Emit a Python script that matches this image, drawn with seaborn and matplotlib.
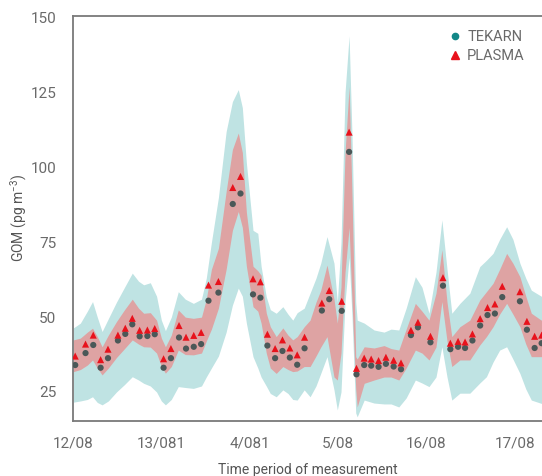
import numpy as np
import pandas as pd
import seaborn as sns
import matplotlib.pyplot as plt

# measurement times (hours since 12/08 00:00)
hours = [0.6, 3.4, 5.5, 7.5, 9.5, 12.2, 14.2, 16.1, 18.1, 20.2, 22.2,
         24.6, 26.6, 28.8, 30.7, 32.8, 34.8, 36.8, 39.5,
         43.4, 45.5, 48.9, 50.9, 52.8, 54.9, 56.9, 58.9, 60.9, 62.9,
         67.6, 69.6, 73.0, 75.0, 77.0, 79.1, 81.0, 83.0,
         85.0, 87.1, 89.1, 91.8, 93.7, 97.1, 100.5, 102.5, 104.6,
         106.5, 108.5, 110.6, 112.6, 114.6, 116.6, 121.4, 123.3, 125.4, 127.3]

tekarn = [34, 38, 40.7, 33.1, 36.3, 42.2, 44.4, 47.6, 43.6, 43.7, 44.3,
          33.1, 36.3, 43.2, 39.5, 40.1, 41, 55.5, 58.2,
          87.8, 91.3, 57.6, 56.5, 40.5, 36.3, 38.7, 36.5, 34.1, 39.6,
          52.2, 56, 52.1, 105.2, 30.9, 34, 33.8, 33.4,
          34.4, 33.5, 32.6, 44, 46.6, 41.6, 60.5, 39.3, 40.1,
          39.7, 42.2, 47.2, 50.7, 51.2, 56.7, 55.3, 45.8, 39.7, 41.3]

plasma = [37, 41, 44, 35.8, 39.3, 44, 46.3, 49.6, 45.6, 45.7, 46.2,
          36.1, 39.5, 47.2, 43.3, 43.9, 44.9, 60.7, 61.9,
          93.3, 97, 62.8, 61.8, 44.3, 39.5, 42.4, 39.7, 37.4, 43.3,
          54.7, 58.9, 55.3, 111.8, 32.9, 36.3, 36, 35.5,
          36.6, 35.6, 34.7, 45.6, 48.3, 43.6, 63.2, 41.3, 41.9,
          41.7, 44.4, 49.5, 53.2, 54.4, 60.3, 58.5, 48.6, 43.6, 44]

# uncertainty bands
band_hours = [0.1, 2.0, 3.9, 5.3, 6.6, 7.9, 9.6, 11.8, 14.0, 16.1, 17.8, 19.2,
              21.0, 22.7, 24.0, 25.1, 26.7, 28.6, 30.5, 32.7, 34.9, 36.2, 37.6,
              39.5, 41.6, 43.3, 44.9, 46.0, 47.1, 48.9, 50.2, 51.1, 52.5, 53.6,
              55.2, 57.0, 58.4, 59.7, 60.9, 62.8, 64.4, 66.0, 67.3, 69.0, 70.9,
              71.8, 72.8, 73.9, 75.0, 75.8, 76.8, 77.2, 79.1, 81.8, 84.5, 86.4,
              88.5, 90.5, 93.0, 94.8, 96.7, 98.6, 100.2, 101.6, 102.9, 105.1,
              107.8, 110.5, 112.3, 114.1, 115.9, 117.8, 119.5, 121.4, 123.0,
              124.5, 127.2, 129.0]
outer_lo = [21.6, 22, 22.5, 23.4, 21.5, 20.7, 22, 25, 27.5, 30.1, 29, 27.9,
            27, 25, 22, 20.7, 22.5, 26.8, 26.5, 26.2, 27, 30, 33,
            37, 45, 54, 59.7, 57, 48, 36.8, 33, 30, 27, 24.5,
            23.4, 25.7, 24.5, 22.5, 22.3, 25.7, 23.4, 27, 31.2, 36.8, 25.7,
            19, 25, 55, 70, 50, 18, 16.7, 22.3, 21.3, 21, 21,
            20, 23, 29, 28, 26.8, 30, 40.1, 30, 22.3, 24.6,
            24.6, 28, 30.1, 35, 39, 40.1, 36, 31.2, 26,
            22.3, 21.2, 22]
inner_lo = [31.8, 32.5, 34, 35.7, 33, 30.7, 33, 36.5, 39.5, 42.4, 41, 40.1,
            40, 38, 33.5, 31.3, 33.5, 39, 37.5, 37.4, 38, 42, 46,
            53, 66, 79, 85.3, 80, 67, 53.5, 52, 48, 38, 33,
            31.2, 33.5, 32.5, 31.8, 32, 33.5, 33.5, 37, 40, 43.5, 30,
            29, 38, 65, 80, 55, 26, 20, 27.9, 29, 30, 30,
            29, 33, 39, 38, 35.7, 40, 55.2, 42, 33.5, 35.7,
            35.7, 40.7, 43.5, 46.8, 51, 54.6, 51, 46.8, 41,
            36.8, 36.8, 37]
inner_hi = [42.4, 43, 45, 46.3, 43.5, 40.1, 44, 48.5, 52.5, 56, 53, 51.3,
            51.5, 49, 43, 40.1, 44, 52.4, 50, 49.6, 50, 56, 66,
            73, 92, 106, 111.5, 105, 85, 67, 65.5, 64, 51.4, 46.8,
            43.5, 46.4, 44, 42.4, 43.5, 46.8, 49, 55, 59, 67.4, 56,
            48, 60, 105, 127, 90, 36.8, 36, 40.1, 39.7, 40.5, 39.5,
            39, 46, 54.6, 52, 49, 58, 72.5, 55, 43.5, 46.8,
            49, 55.7, 58.5, 61.3, 66, 71.3, 68, 63.5, 57,
            51.3, 49, 49]
outer_hi = [46.4, 48, 52, 55.2, 50, 45.2, 49.5, 55, 60, 64.7, 62, 60.8,
            61.5, 57, 49, 45.5, 50, 58.5, 56, 54.6, 56, 63, 75,
            90, 112, 122, 126, 120, 101.5, 79, 78, 67, 56.8, 52.5,
            51.3, 53.5, 51, 49, 51.5, 53, 58, 63, 68, 76.9, 68,
            55, 75, 125, 144, 110, 55, 49, 48, 45.7, 45, 46,
            45.7, 53, 63.5, 60, 51.3, 65, 82.5, 66, 51.3, 54.6,
            58, 66.9, 69, 71.3, 76, 80.2, 76, 68, 63,
            59, 57, 57]

day_ticks = [0, 24, 48, 72, 96, 120]
day_labels = ["12/08", "13/081", "4/081", "5/08", "16/08", "17/08"]

df = pd.DataFrame({"hour": hours, "TEKARN": tekarn, "PLASMA": plasma})
bands = pd.DataFrame({"hour": band_hours, "outer_lo": outer_lo, "inner_lo": inner_lo,
                      "inner_hi": inner_hi, "outer_hi": outer_hi})

sns.set_theme(style="white")
plt.rcParams["font.family"] = ["Roboto", "DejaVu Sans"]
plt.rcParams["mathtext.default"] = "regular"

fig = plt.figure(figsize=(5.42, 4.76), dpi=100)
ax = fig.add_axes([0.1347, 0.1155, 0.8653, 0.8509])

ax.fill_between(bands["hour"], bands["outer_lo"], bands["outer_hi"],
                color="#bfe3e3", lw=0, zorder=1)
ax.fill_between(bands["hour"], bands["inner_lo"], bands["inner_hi"],
                color="#dea3a3", lw=0, zorder=2)

sns.scatterplot(data=df, x="hour", y="TEKARN", ax=ax, marker="o", s=20,
                color="#4b5858", edgecolor="none", zorder=3, legend=False)
sns.scatterplot(data=df, x="hour", y="PLASMA", ax=ax, marker="^", s=26,
                color="#e8121c", edgecolor="none", zorder=4, legend=False)

ax.set_xlim(0, 127.4)
ax.set_ylim(15.3, 150.6)
ax.set_xticks(day_ticks)
ax.set_xticklabels(day_labels)
ax.set_yticks([25, 50, 75, 100, 125, 150])
ax.tick_params(length=0, labelsize=11, labelcolor="#6a6a6a", pad=12)
ax.tick_params(axis="x", pad=11)

ax.set_xlabel("Time period of measurement", fontsize=10, color="#555555", labelpad=9)
ax.set_ylabel("GOM (pg m$^{-3}$)", fontsize=10, color="#555555", labelpad=1)

for side in ["left", "top", "bottom"]:
    ax.spines[side].set_color("#7a7a7a")
    ax.spines[side].set_linewidth(1.3)
ax.spines["right"].set_visible(False)

handles = [
    plt.Line2D([], [], marker="o", ls="", color="#128787", markersize=4.5),
    plt.Line2D([], [], marker="^", ls="", color="#e8121c", markersize=5.5),
]
ax.legend(handles, ["TEKARN", "PLASMA"], loc="upper right", bbox_to_anchor=(0.985, 0.99),
          frameon=False, fontsize=10.5, labelcolor="#6a6a6a", handletextpad=0.3,
          handlelength=1.0, borderpad=0.2, labelspacing=0.3)

fig.savefig("out.png", dpi=100)
